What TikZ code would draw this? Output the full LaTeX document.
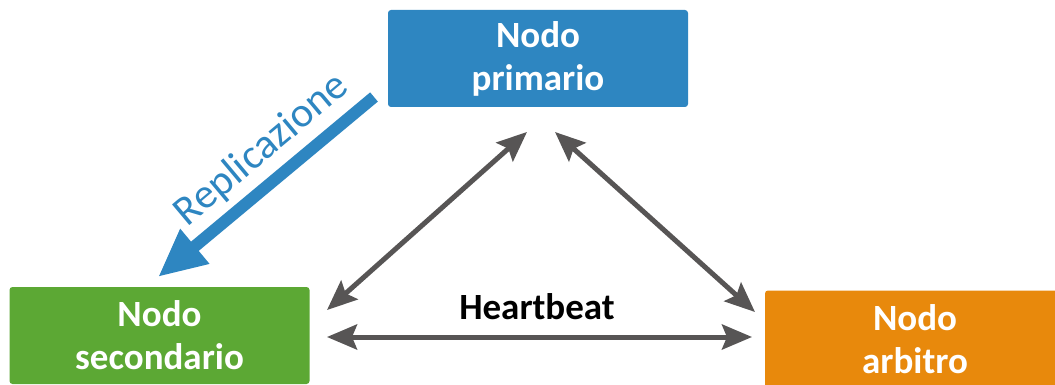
\documentclass[tikz,border=0pt]{standalone}
\usepackage{fontspec}
\setmainfont{Carlito}
\usetikzlibrary{arrows.meta}
\definecolor{nodoblu}{RGB}{46,134,193}
\definecolor{nodoverde}{RGB}{92,168,52}
\definecolor{nodoarancio}{RGB}{232,137,12}
\definecolor{grigio}{RGB}{87,85,85}
\tikzset{nodo/.style = {rectangle, rounded corners=3, text=white, inner sep=0,
                        minimum width=300, minimum height=97, align=center,
                        font=\fontsize{37}{43}\selectfont\bfseries}}
\tikzset{hb/.style = {draw=grigio, line width=5,
                      {Stealth[length=30, width=25, inset=5]}-{Stealth[length=30, width=25, inset=5]}}}
\tikzset{repl/.style = {draw=nodoblu, line width=12, -{Triangle[length=48, width=42]}}}

\begin{document}
\begin{tikzpicture}[x=1pt, y=-1pt]
      \clip (0, 0) rectangle (1055, 385);
      \node [nodo, fill=nodoblu] (primario) at (538, 58.5) {Nodo\\primario};
      \node [nodo, fill=nodoverde] (secondario) at (159.5, 335.5) {Nodo\\secondario};
      \node [nodo, fill=nodoarancio] (arbitro) at (915, 339) {Nodo\\arbitro};
      \node [font=\fontsize{37}{43}\selectfont\bfseries] (heartbeat) at (537, 307) {Heartbeat};
      \node [text=nodoblu, rotate=40, font=\fontsize{42}{50}\selectfont] (replicazione) at (262, 150) {Replicazione};
      \coordinate (rep-a) at (374, 97);
      \coordinate (rep-b) at (158, 277);
      \coordinate (ps-a) at (527, 132);
      \coordinate (ps-b) at (327, 310);
      \coordinate (pa-a) at (555, 132);
      \coordinate (pa-b) at (755, 312);
      \coordinate (sa-a) at (327, 337);
      \coordinate (sa-b) at (752, 337);
      \draw [repl] (rep-a) -- (rep-b);
      \draw [hb] (ps-a) -- (ps-b);
      \draw [hb] (pa-a) -- (pa-b);
      \draw [hb] (sa-a) -- (sa-b);
    \end{tikzpicture}
\end{document}
